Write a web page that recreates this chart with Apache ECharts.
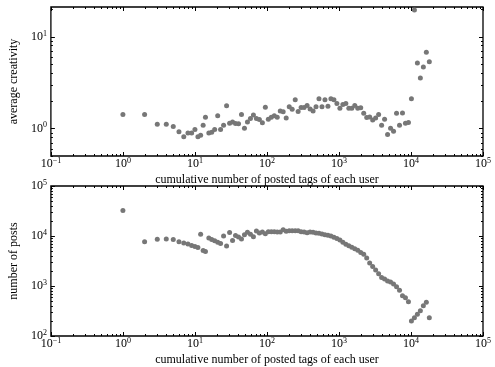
<!DOCTYPE html>
<html><head><meta charset="utf-8">
<script src="https://cdn.jsdelivr.net/npm/echarts@6/dist/echarts.min.js"></script>
<style>html,body{margin:0;padding:0;background:#fff}#chart{width:495px;height:367px}</style>
</head><body><div id="chart"></div>
<script>
// cumulative number of posted tags of each user (bin positions)
const postedTags = [1,2,3,4,5,6,7,8,9,10,11,12,13,14,
  15.6,17.1,18.8,20.7,22.7,25.0,27.5,30.3,33.3,36.6,40.3,44.3,48.7,53.6,59.0,64.9,71.4,78.5,86.4,95,
  104.5,115,126.5,139,153,168,185,204,224,247,271,298,328,361,397,437,480,528,581,639,703,773,851,936,
  1030,1133,1246,1370,1507,1658,1824,2006,2207,2428,2670,2937,3231,3554,3910,4300,4730,5205,5725,6300,6930,7620,8380,9220,
  10140,11160,12270,13500,14850,16340,17970];
// top panel: average creativity
const avgCreativity = [1.42,1.42,1.11,1.11,1.05,0.92,0.81,0.89,0.89,0.975,0.81,0.84,1.08,1.32,
  0.89,0.91,0.975,1.37,0.975,1.08,1.76,1.14,1.17,1.13,1.12,1.42,1.0,1.17,1.28,1.40,1.28,1.25,1.15,1.70,
  1.26,1.32,1.37,1.32,1.55,1.52,1.30,1.72,1.62,2.05,1.53,1.69,1.69,1.77,1.63,1.55,1.72,2.10,1.72,2.05,1.74,2.10,2.05,1.87,
  1.66,1.82,1.87,1.66,1.66,1.77,1.66,1.68,1.46,1.31,1.33,1.23,1.30,1.42,1.08,1.26,0.86,1.0,0.93,1.46,1.08,1.47,1.14,1.16,
  2.10,19.5,5.15,3.54,4.66,6.77,5.32];
// bottom panel: number of posts
const numPosts = [32300,7650,8650,8700,8500,7700,7250,6900,6450,6150,5900,10900,5100,4900,
  9150,8500,8000,7480,7080,10050,6310,11800,8150,10200,9550,8710,10600,11900,10800,9680,12590,11480,12020,11120,
  12190,12190,12190,12020,12020,13370,12420,12770,12770,12770,12770,12190,12020,11640,12020,11900,11480,11320,10960,10600,10330,10000,9450,8900,
  8280,7530,6870,6350,5990,5580,5160,4700,4330,3620,2880,2450,2090,1760,1480,1380,1260,1200,1100,970,820,640,583,485,
  200,232,272,321,404,472,232];

const xRange = [0.1, 1e5];
const yRangeTop = [0.5, 21];
const yRangeBottom = [1e2, 1e5];
const xTitle = 'cumulative number of posted tags of each user';
const yTitleTop = 'average creativity';
const yTitleBottom = 'number of posts';

const FONT = "'Liberation Serif','Times New Roman',serif";
function powLabel(v){
  const e = Math.log10(v), r = Math.round(e);
  if (Math.abs(e - r) > 1e-6) return '';
  return '{b|10}{s|' + (r < 0 ? '\u2212' + (-r) : r) + '}';
}
const rich = {
  b: {fontFamily: FONT, fontSize: 12, lineHeight: 14, color: '#000'},
  s: {fontFamily: FONT, fontSize: 8, lineHeight: 9, verticalAlign: 'top', color: '#000'}
};
const nameStyle = {fontFamily: FONT, fontSize: 12, color: '#000'};

function xAxisCfg(gridIndex){
  return {type: 'log', logBase: 10, gridIndex, min: xRange[0], max: xRange[1],
    name: xTitle, nameLocation: 'middle', nameGap: 18, nameTextStyle: nameStyle,
    axisLine: {show: false}, axisTick: {show: false}, splitLine: {show: false},
    axisLabel: {formatter: powLabel, rich, margin: 1, showMinLabel: true, showMaxLabel: true}};
}
function yAxisCfg(gridIndex, range, name){
  return {type: 'log', logBase: 10, gridIndex, min: range[0], max: range[1],
    name, nameLocation: 'middle', nameGap: 21, nameTextStyle: nameStyle,
    axisLine: {show: false}, axisTick: {show: false}, splitLine: {show: false},
    axisLabel: {formatter: powLabel, rich, margin: 4, showMinLabel: true, showMaxLabel: true}};
}

function decadeTicks(lo, hi){
  const out = [];
  for (let e = Math.floor(Math.log10(lo)) ; e <= Math.ceil(Math.log10(hi)); e++)
    for (let k = 1; k < 10; k++){
      const v = k * Math.pow(10, e);
      if (v >= lo * 0.999 && v <= hi * 1.001) out.push([v, k === 1 ? 4 : 2]);
    }
  return out;
}
function tickData(yr){
  const d = [];
  decadeTicks(xRange[0], xRange[1]).forEach(t => d.push([t[0], yr[0], t[1], 0]));
  decadeTicks(yr[0], yr[1]).forEach(t => d.push([xRange[0], t[0], t[1], 1]));
  return d;
}
function renderTick(params, api){
  const cs = params.coordSys, len = api.value(2), kind = api.value(3);
  const st = {stroke: '#000', lineWidth: 1};
  const p = api.coord([api.value(0), api.value(1)]);
  if (kind === 0){
    const x = Math.round(p[0]) + 0.5, yb = cs.y + cs.height, yt = cs.y;
    return {type: 'group', children: [
      {type: 'line', shape: {x1: x, y1: yb, x2: x, y2: yb - len}, style: st},
      {type: 'line', shape: {x1: x, y1: yt, x2: x, y2: yt + len}, style: st}]};
  }
  const y = Math.round(p[1]) + 0.5, xl = cs.x, xr = cs.x + cs.width;
  return {type: 'group', children: [
    {type: 'line', shape: {x1: xl, y1: y, x2: xl + len, y2: y}, style: st},
    {type: 'line', shape: {x1: xr, y1: y, x2: xr - len, y2: y}, style: st}]};
}

const chart = echarts.init(document.getElementById('chart'), null, {renderer: 'canvas'});
chart.setOption({
  animation: false,
  backgroundColor: '#fff',
  textStyle: {fontFamily: FONT},
  grid: [
    {left: 47, right: 12, top: 7, height: 149, show: true, borderColor: '#000', borderWidth: 1.3},
    {left: 47, right: 12, top: 186, height: 150, show: true, borderColor: '#000', borderWidth: 1.3}
  ],
  xAxis: [xAxisCfg(0), xAxisCfg(1)],
  yAxis: [yAxisCfg(0, yRangeTop, yTitleTop), yAxisCfg(1, yRangeBottom, yTitleBottom)],
  series: [
    {type: 'scatter', xAxisIndex: 0, yAxisIndex: 0, symbolSize: 5,
      itemStyle: {color: '#777', opacity: 1},
      data: postedTags.map((x, i) => [x, avgCreativity[i]])},
    {type: 'scatter', xAxisIndex: 1, yAxisIndex: 1, symbolSize: 5,
      itemStyle: {color: '#777', opacity: 1},
      data: postedTags.map((x, i) => [x, numPosts[i]])},
    {type: 'custom', xAxisIndex: 0, yAxisIndex: 0, silent: true, clip: false,
      renderItem: renderTick, data: tickData(yRangeTop)},
    {type: 'custom', xAxisIndex: 1, yAxisIndex: 1, silent: true, clip: false,
      renderItem: renderTick, data: tickData(yRangeBottom)}
  ]
});
</script></body></html>
